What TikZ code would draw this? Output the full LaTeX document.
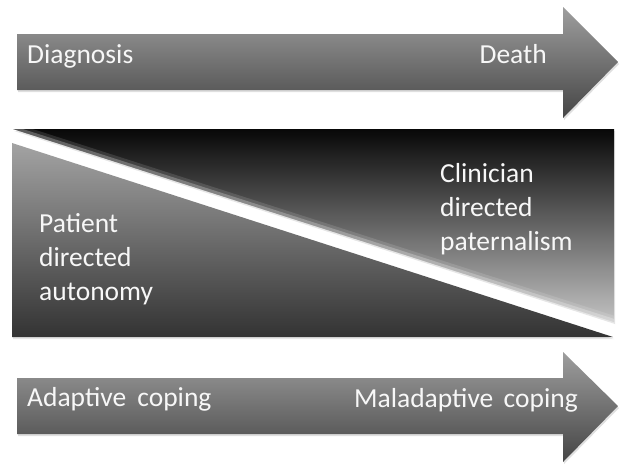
\documentclass[tikz,border=0pt]{standalone}
\usepackage{fontspec}
\setmainfont{Carlito}
\usetikzlibrary{shadows}

\definecolor{arrowtop}{gray}{0.62}
\definecolor{arrowbot}{gray}{0.27}
\definecolor{patienttop}{gray}{0.64}
\definecolor{patientbot}{gray}{0.2}
\definecolor{cliniciantop}{gray}{0.03}
\definecolor{clinicianmid}{gray}{0.22}
\definecolor{clinicianbot}{gray}{0.76}

\tikzset{
  timeline/.style={top color=arrowtop,bottom color=arrowbot,
    drop shadow={opacity=0.25,shadow xshift=1pt,shadow yshift=-2pt}},
  wedge/.style={drop shadow={opacity=0.2,shadow xshift=1pt,shadow yshift=-2pt}},
  glow/.style={draw=white,line cap=round},
  whitetext/.style={text=white!94!gray,inner sep=0pt,align=left,
    font=\fontsize{27.5}{33.8}\selectfont}
}

\begin{document}
\begin{tikzpicture}[x=1pt,y=-1pt]
\useasboundingbox (0,0) rectangle (620,464);

% timelines
\path [timeline] (17,34) -- (563,34) -- (563,7) -- (618,62) -- (563,118) -- (563,90) -- (17,90) -- cycle;
\path [timeline] (17,378) -- (563,378) -- (563,352) -- (618,406) -- (563,462) -- (563,434) -- (17,434) -- cycle;

% decision wedges
\path [wedge,top color=cliniciantop,middle color=clinicianmid,bottom color=clinicianbot] (13,129) -- (614,129) -- (614,322) -- cycle;
\begin{scope}
  \clip (13,129) -- (614,129) -- (614,322) -- cycle;
  \path [glow,line width=12pt,opacity=0.12] (13,129) -- (614,322);
  \path [glow,line width=6pt,opacity=0.25] (13,129) -- (614,322);
\end{scope}
\path [wedge,top color=patienttop,bottom color=patientbot] (12,143) -- (613,337) -- (12,337) -- cycle;

\node[whitetext,anchor=base west] (diagnosis) at (27,63) {Diagnosis};
\node[whitetext,anchor=base east] (death) at (547,63) {Death};
\node[whitetext,anchor=base west] (clinician) at (440,250) {Clinician\\directed\\paternalism};
\node[whitetext,anchor=base west] (patient) at (39,300) {Patient\\directed\\autonomy};
\node[whitetext,anchor=base west] (adaptive) at (27,406) {Adaptive\hspace{0.18em} coping};
\node[whitetext,anchor=base east] (maladaptive) at (578,407) {Maladaptive\hspace{0.15em} coping};
\end{tikzpicture}
\end{document}
